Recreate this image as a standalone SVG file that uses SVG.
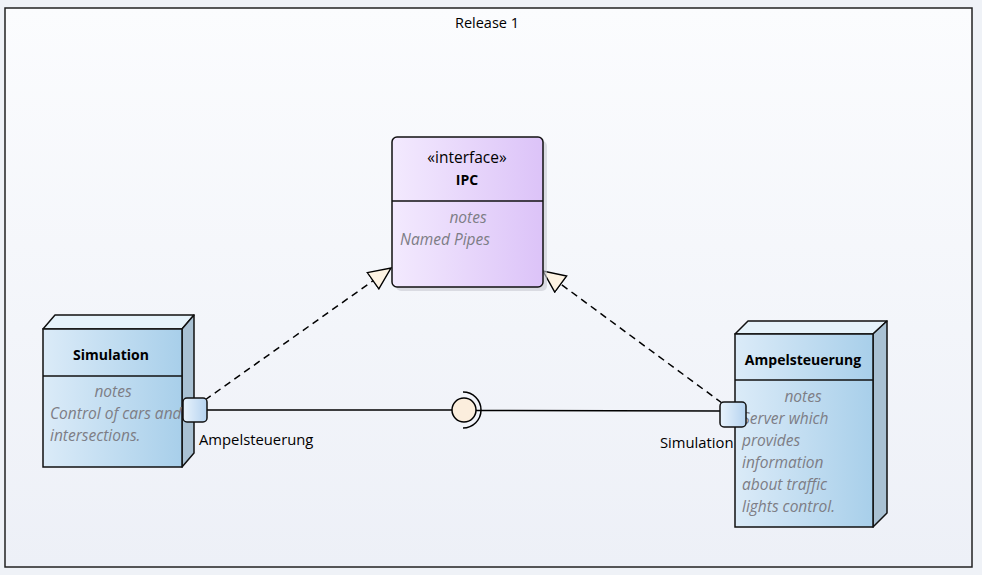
<svg xmlns="http://www.w3.org/2000/svg" width="982" height="575" viewBox="0 0 982 575">
<defs>
<linearGradient id="bg" x1="0" y1="0" x2="0" y2="1"><stop offset="0" stop-color="#fbfcfe"/><stop offset="1" stop-color="#edf0f7"/></linearGradient>
<linearGradient id="purple" x1="0" y1="0" x2="1" y2="0"><stop offset="0" stop-color="#f3eafe"/><stop offset="1" stop-color="#dcc3f8"/></linearGradient>
<linearGradient id="blue" x1="0" y1="0" x2="1" y2="0"><stop offset="0" stop-color="#dbebf8"/><stop offset="1" stop-color="#a8cfea"/></linearGradient>
<linearGradient id="port" x1="0" y1="0" x2="1" y2="0"><stop offset="0" stop-color="#e9f3fc"/><stop offset="1" stop-color="#b5d3f0"/></linearGradient>
<clipPath id="simclip"><rect x="43" y="329" width="139" height="138"/></clipPath>
<marker id="realize" markerUnits="userSpaceOnUse" viewBox="-1 -1 24 22" refX="22" refY="10" markerWidth="24" markerHeight="22" orient="auto">
<path d="M0,0 L22,10 L0,20 Z" fill="#fdf3e3" stroke="#000" stroke-width="1.4" stroke-linejoin="miter"/>
</marker>
<style>
.frame{fill:url(#bg);stroke:#222;stroke-width:1.5}
.box{stroke:#111;stroke-width:1.5}
.top{fill:#e6f3fb;stroke:#111;stroke-width:1.5;stroke-linejoin:round}
.side{fill:#a9c1d3;stroke:#111;stroke-width:1.5;stroke-linejoin:round}
.div{stroke:#111;stroke-width:1.5}
.title{font-family:"Open Sans","Noto Sans",sans-serif;font-size:14px;font-weight:bold;fill:#000;text-anchor:middle}
.stereo{font-family:"Open Sans","Noto Sans",sans-serif;font-size:15.5px;fill:#000;text-anchor:middle}
.note{font-family:"Open Sans","Noto Sans",sans-serif;font-size:15.5px;font-style:italic;fill:#7d7d85}
.lbl{font-family:"Open Sans","Noto Sans",sans-serif;font-size:14.8px;fill:#000}
.conn{fill:none;stroke:#000;stroke-width:1.5}
.dash{fill:none;stroke:#000;stroke-width:1.5;stroke-dasharray:7,5}
</style>
</defs>
<rect x="0" y="0" width="982" height="575" fill="#eff2f7"/>
<g id="release1">
<rect class="frame" x="5" y="8" width="967" height="559"/>
<text x="487" y="28" style="font-family:'Open Sans','Noto Sans',sans-serif;font-size:14.5px;fill:#000;text-anchor:middle">Release 1</text>
</g>
<g id="connectors">
<path class="dash" d="M205,400 L391,268" marker-end="url(#realize)"/>
<path class="dash" d="M722,403 L543,271" marker-end="url(#realize)"/>
<line class="conn" x1="207" y1="410" x2="452" y2="410"/>
<line class="conn" x1="476" y1="410.5" x2="720" y2="411"/>
<circle cx="464" cy="410" r="12" fill="#fbeedd" stroke="#000" stroke-width="1.5"/>
<path d="M463,392 A18,18 0 0 1 463,428" fill="none" stroke="#000" stroke-width="1.5"/>
</g>
<g id="ipc">
<rect x="396" y="141" width="151" height="150" rx="5" fill="#c8cad2" opacity="0.6"/>
<rect class="box" x="392" y="137" width="151" height="150" rx="5" fill="url(#purple)"/>
<line class="div" x1="392" y1="201" x2="543" y2="201"/>
<text class="stereo" x="467" y="163">«interface»</text>
<text class="title" x="467" y="185">IPC</text>
<text class="note" x="468" y="223" text-anchor="middle">notes</text>
<text class="note" x="400" y="245">Named Pipes</text>
</g>
<g id="simulation">
<polygon class="top" points="43,329 55,315 194,315 182,329"/>
<polygon class="side" points="182,329 194,315 194,453 182,467"/>
<rect class="box" x="43" y="329" width="139" height="138" fill="url(#blue)"/>
<line class="div" x1="43" y1="376" x2="182" y2="376"/>
<text class="title" x="111" y="360">Simulation</text>
<g clip-path="url(#simclip)">
<text class="note" x="113" y="397" text-anchor="middle">notes</text>
<text class="note" x="50" y="419">Control of cars and</text>
<text class="note" x="50" y="441">intersections.</text>
</g>
</g>
<g id="ampelsteuerung">
<polygon class="top" points="735,334 748,321 887,321 873,334"/>
<polygon class="side" points="873,334 887,321 887,513 873,527"/>
<rect class="box" x="735" y="334" width="138" height="193" fill="url(#blue)"/>
<line class="div" x1="735" y1="380" x2="873" y2="380"/>
<text class="title" x="803" y="365">Ampelsteuerung</text>
<text class="note" x="803" y="402" text-anchor="middle">notes</text>
<text class="note" x="742" y="424">Server which</text>
<text class="note" x="742" y="446">provides</text>
<text class="note" x="742" y="468">information</text>
<text class="note" x="742" y="490">about traffic</text>
<text class="note" x="742" y="512">lights control.</text>
</g>
<g id="port-ampelsteuerung">
<rect class="box" x="183" y="398" width="24" height="24" rx="4" fill="url(#port)"/>
<text class="lbl" x="199" y="445">Ampelsteuerung</text>
</g>
<g id="port-simulation">
<rect class="box" x="720" y="402" width="26" height="25" rx="4" fill="url(#port)"/>
<text class="lbl" x="660" y="448">Simulation</text>
</g>
</svg>
